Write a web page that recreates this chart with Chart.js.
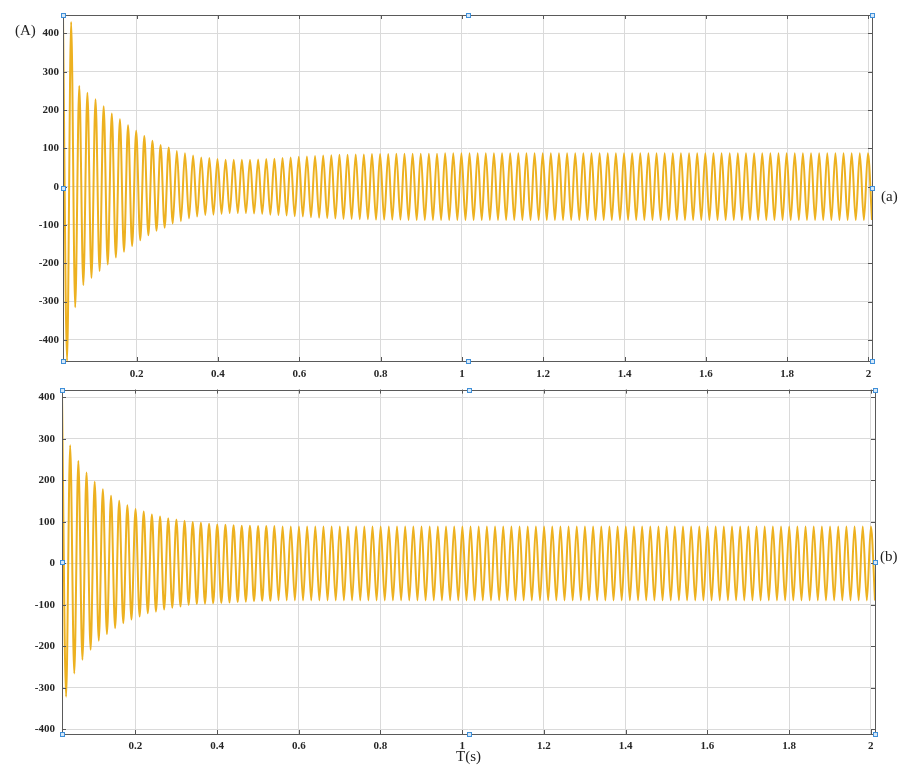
<!DOCTYPE html>
<html>
<head>
<meta charset="utf-8">
<script src="https://cdn.jsdelivr.net/npm/chart.js@4/dist/chart.umd.min.js"></script>
<style>
  html, body { margin: 0; padding: 0; background: #ffffff; }
  #wrap { position: relative; width: 898px; height: 765px; overflow: hidden; }
  #wrap canvas { position: absolute; left: 0; }
  #cA { top: 0; }
  #cB { top: 376px; }
  .lbl { position: absolute; font-family: "Liberation Serif", "DejaVu Serif", serif; font-size: 15px; line-height: 15px; color: #222; white-space: nowrap; }
</style>
</head>
<body>
<div id="wrap">
  <canvas id="cA" width="898" height="380"></canvas>
  <canvas id="cB" width="898" height="389"></canvas>
  <div class="lbl" style="left:15px; top:23px;">(A)</div>
  <div class="lbl" style="left:881px; top:189px;">(a)</div>
  <div class="lbl" style="left:880px; top:549px;">(b)</div>
</div>
<script>
// Start time of each record and spacing between a crest and the next trough (50 Hz)
const T_START_A = 0.0188;
const T_START_B = 0.0205;
const HALF_CYCLE = 0.01;

// Panel (a): crest and trough of every cycle
const PEAKS_A = [
  447, 430, 263, 245, 228, 210, 191, 176, 160, 146,
  132, 120, 109, 102, 93, 87, 81, 76, 75, 72,
  70, 70, 70, 70, 71, 72, 73, 75, 76, 78,
  79, 80, 81, 82, 83, 83, 84, 84, 85, 85,
  85, 86, 86, 86, 86, 86, 86, 87, 87, 87,
  87, 87, 87, 87, 87, 87, 87, 87, 87, 87,
  87, 87, 87, 87, 87, 87, 87, 87, 87, 87,
  87, 87, 87, 87, 87, 87, 87, 87, 87, 87,
  87, 87, 87, 87, 87, 87, 87, 87, 87, 87,
  87, 87, 87, 87, 87, 87, 87, 87, 87, 87
];
const TROUGHS_A = [
  -455, -315, -257, -238, -220, -203, -185, -170, -155, -140,
  -127, -115, -107, -96, -90, -83, -78, -74, -73, -71,
  -69, -69, -69, -70, -71, -73, -74, -75, -77, -78,
  -80, -81, -82, -83, -84, -84, -85, -85, -86, -86,
  -86, -86, -87, -87, -87, -87, -87, -87, -87, -87,
  -87, -87, -87, -87, -87, -87, -87, -87, -87, -87,
  -87, -87, -87, -87, -87, -87, -87, -87, -87, -87,
  -87, -87, -87, -87, -87, -87, -87, -87, -87, -87,
  -87, -87, -87, -87, -87, -87, -87, -87, -87, -87,
  -87, -87, -87, -87, -87, -87, -87, -87, -87, -87
];

// Panel (b): crest and trough of every cycle
const PEAKS_B = [
  410, 285, 247, 219, 197, 179, 163, 151, 140, 131,
  125, 118, 113, 109, 106, 103, 100, 98, 96, 94,
  93, 92, 91, 91, 90, 90, 90, 89, 89, 89,
  89, 89, 89, 89, 89, 89, 89, 89, 89, 89,
  89, 89, 89, 89, 89, 89, 89, 89, 89, 89,
  89, 89, 89, 89, 89, 89, 89, 89, 89, 89,
  89, 89, 89, 89, 89, 89, 89, 89, 89, 89,
  89, 89, 89, 89, 89, 89, 89, 89, 89, 89,
  89, 89, 89, 89, 89, 89, 89, 89, 89, 89,
  89, 89, 89, 89, 89, 89, 89, 89, 89, 89
];
const TROUGHS_B = [
  -321, -265, -232, -208, -186, -170, -156, -144, -135, -128,
  -120, -116, -111, -107, -104, -100, -98, -97, -96, -95,
  -94, -93, -92, -91, -90, -90, -89, -89, -89, -89,
  -89, -89, -89, -89, -89, -89, -89, -89, -89, -89,
  -89, -89, -89, -89, -89, -89, -89, -89, -89, -89,
  -89, -89, -89, -89, -89, -89, -89, -89, -89, -89,
  -89, -89, -89, -89, -89, -89, -89, -89, -89, -89,
  -89, -89, -89, -89, -89, -89, -89, -89, -89, -89,
  -89, -89, -89, -89, -89, -89, -89, -89, -89, -89,
  -89, -89, -89, -89, -89, -89, -89, -89, -89, -89
];

// Axis ticks and their labels
const X_TICKS = [0.2, 0.4, 0.6, 0.8, 1.0, 1.2, 1.4, 1.6, 1.8, 2.0];
const X_TICK_LABELS = ['0.2', '0.4', '0.6', '0.8', '1', '1.2', '1.4', '1.6', '1.8', '2'];
const Y_TICKS = [-400, -300, -200, -100, 0, 100, 200, 300, 400];
const Y_TICK_LABELS = ['-400', '-300', '-200', '-100', '0', '100', '200', '300', '400'];

// Axis limits of each panel
const X_RANGE_A = [0.0188, 2.0088];
const Y_RANGE_A = [-455, 448];
const X_RANGE_B = [0.0205, 2.0105];
const Y_RANGE_B = [-411, 419];

const LINE_COLOR = '#EDB120';
const GRID_COLOR = '#dadada';
const FRAME_COLOR = '#5a5a5a';
const TICK_FONT = { family: '"Liberation Serif", "DejaVu Serif", serif', size: 11, weight: 'bold' };

// Interleave crests and troughs into time-stamped samples
function buildSeries(start, peaks, troughs) {
  const pts = [];
  for (let n = 0; n < peaks.length; n++) {
    pts.push({ x: start + 2 * n * HALF_CYCLE, y: peaks[n] });
    pts.push({ x: start + (2 * n + 1) * HALF_CYCLE, y: troughs[n] });
  }
  return pts;
}

// Box, inward tick marks and selection handles drawn over the plot
const framePlugin = {
  id: 'frame',
  afterDraw(chart) {
    const { ctx, chartArea: a, scales } = chart;
    ctx.save();
    // inward tick marks on all four sides
    ctx.strokeStyle = '#555';
    ctx.lineWidth = 1;
    ctx.beginPath();
    scales.x.ticks.forEach(t => {
      const px = Math.round(scales.x.getPixelForValue(t.value)) + 0.5;
      ctx.moveTo(px, a.bottom); ctx.lineTo(px, a.bottom - 4);
      ctx.moveTo(px, a.top); ctx.lineTo(px, a.top + 4);
    });
    scales.y.ticks.forEach(t => {
      const py = Math.round(scales.y.getPixelForValue(t.value)) + 0.5;
      ctx.moveTo(a.left, py); ctx.lineTo(a.left + 4, py);
      ctx.moveTo(a.right, py); ctx.lineTo(a.right - 4, py);
    });
    ctx.stroke();
    // box
    ctx.strokeStyle = FRAME_COLOR;
    ctx.strokeRect(Math.round(a.left) + 0.5, Math.round(a.top) + 0.5,
                   Math.round(a.right - a.left), Math.round(a.bottom - a.top));
    // handles at corners and edge midpoints
    const xs = [a.left, (a.left + a.right) / 2, a.right];
    const ys = [a.top, (a.top + a.bottom) / 2, a.bottom];
    ctx.fillStyle = '#d6e8f8';
    ctx.strokeStyle = '#3f8fd8';
    xs.forEach((hx, i) => ys.forEach((hy, j) => {
      if (i === 1 && j === 1) return;
      const rx = Math.round(hx) - 2 + 0.5, ry = Math.round(hy) - 2 + 0.5;
      ctx.fillRect(rx, ry, 4, 4);
      ctx.strokeRect(rx, ry, 4, 4);
    }));
    ctx.restore();
  }
};

function makePanel(canvasId, series, xr, yr, geom, xTitle) {
  return new Chart(document.getElementById(canvasId), {
    type: 'line',
    data: {
      datasets: [{
        data: series,
        borderColor: LINE_COLOR,
        borderWidth: 2,
        pointRadius: 0,
        fill: false,
        cubicInterpolationMode: 'monotone'
      }]
    },
    options: {
      responsive: false,
      animation: false,
      devicePixelRatio: 1,
      events: [],
      layout: { padding: { left: 0, top: geom.top, right: geom.right, bottom: 0 } },
      plugins: { legend: { display: false }, tooltip: { enabled: false } },
      scales: {
        x: {
          type: 'linear',
          min: xr[0], max: xr[1],
          afterBuildTicks: s => { s.ticks = X_TICKS.map(v => ({ value: v })); },
          afterFit: s => { s.height = geom.xh; },
          grid: { color: GRID_COLOR, lineWidth: 1, drawTicks: false },
          border: { display: false },
          ticks: {
            padding: geom.xpad,
            maxRotation: 0,
            autoSkip: false,
            color: '#262626',
            font: TICK_FONT,
            callback: (v, i) => X_TICK_LABELS[i]
          },
          title: xTitle ? {
            display: true, text: xTitle, color: '#222',
            padding: { top: 0, bottom: 0 },
            font: { family: '"Liberation Serif", "DejaVu Serif", serif', size: 15, lineHeight: 1 }
          } : { display: false }
        },
        y: {
          type: 'linear',
          min: yr[0], max: yr[1],
          afterBuildTicks: s => { s.ticks = Y_TICKS.map(v => ({ value: v })); },
          afterFit: s => { s.width = geom.yw; },
          grid: { color: GRID_COLOR, lineWidth: 1, drawTicks: false },
          border: { display: false },
          ticks: {
            padding: geom.ypad,
            autoSkip: false,
            color: '#262626',
            font: TICK_FONT,
            callback: (v, i) => Y_TICK_LABELS[i]
          }
        }
      }
    },
    plugins: [framePlugin]
  });
}

makePanel('cA', buildSeries(T_START_A, PEAKS_A, TROUGHS_A), X_RANGE_A, Y_RANGE_A,
  { top: 15, right: 26, xh: 19, yw: 63, xpad: 7, ypad: 4 }, null);
makePanel('cB', buildSeries(T_START_B, PEAKS_B, TROUGHS_B), X_RANGE_B, Y_RANGE_B,
  { top: 10, right: 23, xh: 31, yw: 62, xpad: 6, ypad: 7 }, 'T(s)');
</script>
</body>
</html>
